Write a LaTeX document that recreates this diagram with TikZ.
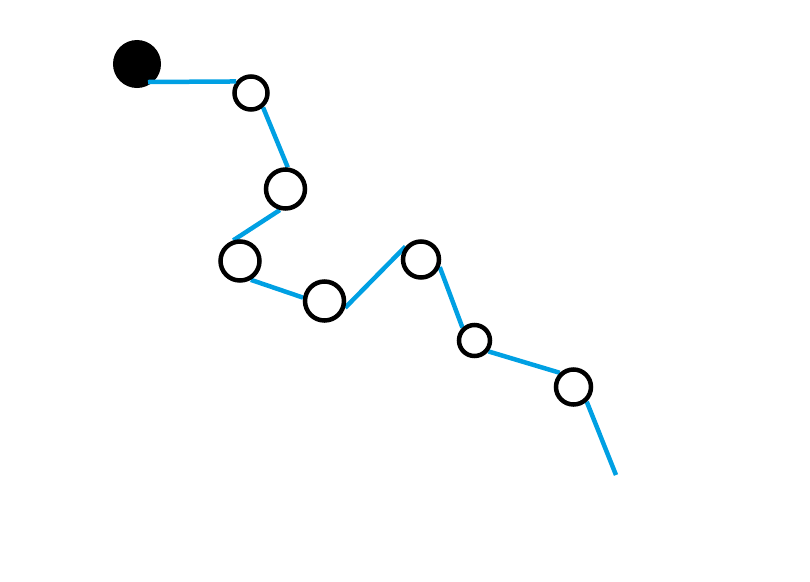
\documentclass[tikz,border=0pt]{standalone}
\usepackage{tikz}
\usetikzlibrary{backgrounds}
\definecolor{chainblue}{RGB}{0,160,227}
\tikzset{
    headbead/.style={circle, fill=black, inner sep=0pt, minimum size=1.2cm},
    bead/.style={circle, draw=black, line width=3.2pt, fill=white, inner sep=0pt},
    chainline/.style={draw=chainblue, line width=3.2pt}
}

\begin{document}
\begin{tikzpicture}[x=0.025cm, y=-0.025cm]
        \useasboundingbox (0,0) rectangle (810,581);
        \node[headbead] (a) at (137,64) {};
        \node[bead, minimum size=0.825cm] (b) at (251,93) {};
        \node[bead, minimum size=0.975cm] (c) at (285.5,189) {};
        \node[bead, minimum size=0.975cm] (d) at (240,261) {};
        \node[bead, minimum size=0.975cm] (e) at (324.5,301) {};
        \node[bead, minimum size=0.9cm] (f) at (421,259.5) {};
        \node[bead, minimum size=0.775cm] (g) at (474.5,340.5) {};
        \node[bead, minimum size=0.875cm] (h) at (573.5,387) {};
        \coordinate (tail) at (616,475);

        \draw[chainline] ([shift={(11,18)}]a.center) -- (b.142);
        \begin{pgfonlayer}{background}
        \draw[chainline] (b.-50) -- (c.84);
        \draw[chainline] (c.-105) -- (d.108);
        \draw[chainline] (d.-60) -- (e.171);
        \draw[chainline] (e.-18) -- (f.140);
        \draw[chainline] (f.-22) -- (g.133);
        \draw[chainline] (g.-38) -- (h.134);
        \draw[chainline] (h.-48) -- (tail);
        \end{pgfonlayer}
    \end{tikzpicture}
\end{document}
